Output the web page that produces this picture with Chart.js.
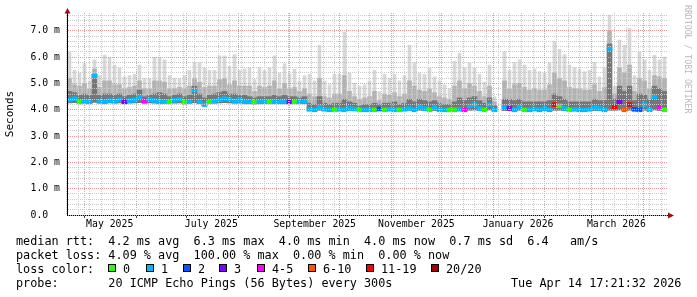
<!DOCTYPE html>
<html>
<head>
<meta charset="utf-8">
<script src="https://cdn.jsdelivr.net/npm/chart.js@4.4.1/dist/chart.umd.min.js"></script>
<style>
  html, body { margin: 0; padding: 0; background: #fff; }
  #wrap { position: relative; width: 697px; height: 297px; overflow: hidden;
          font-family: 'DejaVu Sans Mono', monospace; color: #000; }
  #chart { position: absolute; left: 0; top: 0; }
  .t { position: absolute; white-space: pre; font-size: 11.8px; line-height: 14px; }
  .box { position: absolute; width: 8px; height: 8px; box-sizing: border-box; border: 1px solid #000; }
  #wm { position: absolute; left: 683px; top: 5px; font-size: 8.2px; line-height: 9px;
        color: #b8b8b8; writing-mode: vertical-rl; white-space: pre; }
</style>
</head>
<body>
<div id="wrap">
  <canvas id="chart" width="697" height="297"></canvas>
  <div id="wm">RRDTOOL / TOBI OETIKER</div>
  <div class="t" style="left:16px;top:234px">median rtt:  4.2 ms avg  6.3 ms max  4.0 ms min  4.0 ms now  0.7 ms sd  6.4   am/s</div>
  <div class="t" style="left:16px;top:248px">packet loss: 4.09 % avg  100.00 % max  0.00 % min  0.00 % now</div>
  <div class="t" style="left:16px;top:262px">loss color:</div>
  <div class="t" style="left:16px;top:276px">probe:       20 ICMP Echo Pings (56 Bytes) every 300s</div>
  <div class="t" style="left:511px;top:276px">Tue Apr 14 17:21:32 2026</div>
</div>
<script>
// 360 day graph, one value per 3 days
var DAY = 86400000;
var graphStart = Date.UTC(2025, 3, 20, 9, 0, 0);
var graphDays = 360;
var bucketDays = 3;

// median rtt (ms)
var median = [
  4.38, 4.42, 4.30, 4.33, 4.30, 5.28, 4.33, 4.30, 4.35, 4.33,
  4.38, 4.30, 4.35, 4.37, 4.50, 4.33, 4.38, 4.35, 4.30, 4.32,
  4.30, 4.36, 4.40, 4.28, 4.32, 4.75, 4.30, 4.20, 4.30, 4.33,
  4.38, 4.42, 4.40, 4.33, 4.36, 4.30, 4.30, 4.28, 4.30, 4.31,
  4.30, 4.30, 4.30, 4.30, 4.30, 4.30, 4.30, 4.30, 4.02, 4.00,
  4.10, 4.02, 4.00, 4.00, 4.02, 4.00, 4.05, 4.03, 4.00, 4.00,
  4.00, 4.00, 4.03, 4.00, 4.02, 4.00, 4.00, 4.02, 4.05, 4.00,
  4.10, 4.05, 4.00, 4.08, 4.00, 4.00, 4.00, 4.00, 4.02, 4.00,
  4.15, 4.20, 4.05, 4.00, 4.20, 4.00, null, 4.10, 4.05, 4.00,
  4.10, 4.00, 4.00, 4.03, 4.00, 4.05, 4.00, 4.20, 4.15, 4.05,
  4.00, 4.02, 4.00, 4.00, 4.02, 4.08, 4.05, 4.00, 6.33, 4.11,
  4.30, 4.00, 4.20, 4.02, 4.00, 4.20, 4.00, 4.50, 4.10, 4.00
];
// lost pings out of 20
var loss = [
  1, 1, 0, 1, 1, 1, 1, 1, 1, 1,
  1, 3, 1, 1, 1, 5, 1, 1, 1, 1,
  0, 1, 1, 0, 1, 1, 1, 1, 0, 1,
  1, 1, 1, 1, 1, 1, 1, 0, 1, 1,
  0, 1, 1, 1, 3, 0, 1, 1, 1, 1,
  1, 1, 1, 0, 1, 1, 1, 1, 0, 1,
  1, 0, 2, 0, 1, 1, 0, 1, 1, 1,
  1, 1, 0, 1, 1, 1, 0, 0, 1, 5,
  1, 1, 1, 0, 1, 1, 20, 1, 3, 1,
  1, 0, 1, 1, 1, 1, 1, 15, 0, 1,
  0, 1, 1, 1, 1, 1, 1, 1, 1, 15,
  3, 8, 15, 2, 2, 1, 1, 1, 5, 0
];
// smoke: lowest ping, top of dark part, top of middle part, highest ping
var smokeLow = [
  4.26, 4.27, 4.24, 4.25, 4.25, 4.28, 4.25, 4.24, 4.26, 4.25,
  4.26, 4.24, 4.25, 4.26, 4.27, 4.25, 4.26, 4.25, 4.24, 4.25,
  4.24, 4.25, 4.26, 4.23, 4.25, 4.27, 4.24, 4.15, 4.24, 4.25,
  4.26, 4.27, 4.26, 4.25, 4.25, 4.24, 4.24, 4.23, 4.24, 4.24,
  4.24, 4.24, 4.24, 4.24, 4.24, 4.24, 4.24, 4.24, 3.97, 3.96,
  3.98, 3.97, 3.96, 3.96, 3.97, 3.96, 3.97, 3.97, 3.96, 3.96,
  3.96, 3.96, 3.97, 3.96, 3.97, 3.96, 3.96, 3.97, 3.97, 3.96,
  3.98, 3.97, 3.96, 3.97, 3.96, 3.96, 3.96, 3.96, 3.97, 3.96,
  3.98, 3.99, 3.97, 3.96, 3.99, 3.96, null, 3.97, 3.97, 3.96,
  3.98, 3.96, 3.96, 3.97, 3.96, 3.97, 3.96, 3.98, 3.98, 3.97,
  3.96, 3.97, 3.96, 3.96, 3.97, 3.97, 3.97, 3.96, 3.98, 3.98,
  3.99, 3.96, 3.98, 3.96, 3.96, 3.98, 3.96, 3.99, 3.97, 3.96
];
var smokeDark = [
  4.70, 4.65, 4.55, 4.60, 4.55, 5.35, 4.55, 4.60, 4.60, 4.55,
  4.60, 4.50, 4.55, 4.60, 4.75, 4.50, 4.55, 4.60, 4.65, 4.60,
  4.50, 4.55, 4.60, 4.50, 4.55, 4.90, 4.60, 4.45, 4.55, 4.60,
  4.65, 4.70, 4.60, 4.60, 4.55, 4.55, 4.50, 4.45, 4.50, 4.50,
  4.50, 4.55, 4.50, 4.55, 4.50, 4.50, 4.45, 4.50, 4.25, 4.20,
  4.50, 4.25, 4.20, 4.25, 4.25, 4.40, 4.30, 4.25, 4.15, 4.20,
  4.20, 4.25, 4.20, 4.25, 4.25, 4.30, 4.20, 4.25, 4.40, 4.30,
  4.40, 4.35, 4.30, 4.35, 4.25, 4.20, 4.20, 4.30, 4.45, 4.35,
  4.45, 4.50, 4.35, 4.25, 4.45, 4.15, null, 4.40, 4.40, 4.35,
  4.40, 4.30, 4.30, 4.30, 4.30, 4.30, 4.35, 4.60, 4.50, 4.40,
  4.30, 4.30, 4.30, 4.30, 4.30, 4.40, 4.35, 4.35, 6.50, 4.40,
  4.90, 4.70, 4.90, 4.35, 4.60, 4.55, 4.40, 4.90, 4.80, 4.70
];
var smokeMid = [
  5.20, 4.95, 4.90, 5.00, 4.80, 5.55, 4.85, 5.10, 5.10, 4.95,
  4.95, 4.80, 4.85, 4.90, 5.10, 4.80, 4.80, 5.10, 5.10, 5.05,
  4.80, 4.80, 4.85, 4.80, 4.90, 5.20, 5.05, 4.85, 4.90, 4.90,
  5.15, 5.20, 4.95, 5.10, 4.90, 4.90, 4.90, 4.70, 4.90, 4.85,
  4.90, 5.10, 4.80, 5.00, 4.80, 4.85, 4.70, 4.80, 4.60, 4.50,
  5.20, 4.50, 4.45, 4.60, 4.60, 5.30, 4.70, 4.50, 4.40, 4.45,
  4.50, 4.70, 4.35, 4.60, 4.55, 4.65, 4.50, 4.60, 5.10, 4.90,
  4.75, 4.70, 4.80, 4.65, 4.50, 4.45, 4.40, 4.90, 5.10, 4.80,
  5.00, 4.90, 4.70, 4.50, 4.90, 4.30, null, 5.10, 4.80, 4.95,
  5.00, 4.85, 4.75, 4.80, 4.75, 4.75, 4.95, 5.40, 5.20, 5.10,
  4.85, 4.80, 4.80, 4.75, 4.75, 4.95, 4.70, 4.85, 7.00, 4.60,
  5.60, 5.40, 5.70, 4.70, 5.20, 5.10, 4.80, 5.30, 5.25, 5.20
];
var smokeMax = [
  6.20, 5.50, 5.40, 5.76, 5.10, 5.90, 5.30, 6.08, 6.00, 5.70,
  5.60, 5.25, 5.30, 5.35, 5.70, 5.20, 5.20, 6.00, 6.00, 5.90,
  5.30, 5.20, 5.20, 5.30, 5.50, 5.80, 5.80, 5.60, 5.50, 5.50,
  6.05, 6.05, 5.65, 6.10, 5.50, 5.55, 5.60, 5.15, 5.60, 5.50,
  5.60, 6.05, 5.40, 5.75, 5.35, 5.55, 5.10, 5.30, 5.35, 5.10,
  6.45, 5.10, 4.95, 5.35, 5.35, 6.95, 5.40, 5.00, 4.90, 4.95,
  5.10, 5.50, 4.70, 5.35, 5.20, 5.35, 5.10, 5.30, 6.45, 5.80,
  5.40, 5.35, 5.60, 5.25, 5.10, 4.95, 4.80, 5.85, 6.15, 5.60,
  5.80, 5.60, 5.35, 5.05, 5.70, 4.50, null, 6.20, 5.50, 5.80,
  5.90, 5.70, 5.50, 5.55, 5.45, 5.40, 5.80, 6.60, 6.30, 6.10,
  5.70, 5.60, 5.55, 5.45, 5.50, 5.80, 5.25, 5.60, 7.60, 4.90,
  6.65, 6.46, 7.10, 5.30, 6.20, 5.90, 5.50, 6.07, 5.90, 6.00
];

var lossSteps = [0, 1, 2, 3, 5, 10, 19, 20];
var lossLabels = ['0', '1', '2', '3', '4-5', '6-10', '11-19', '20/20'];
var lossColors = ['#26ff00', '#00b8ff', '#0059ff', '#7e00ff', '#ff00ff', '#ff5500', '#ff0000', '#a10000'];
var monthNames = ['January', 'February', 'March', 'April', 'May', 'June', 'July',
                  'August', 'September', 'October', 'November', 'December'];

var yMax = 7.68;
var majorGrid = '#e79a9a';
var minorGrid = '#c8c8c8';
var fontFamily = "'DejaVu Sans Mono', monospace";

function lossColor(n) {
  for (var k = 0; k < lossSteps.length; k++) {
    if (n <= lossSteps[k]) return lossColors[k];
  }
  return lossColors[lossColors.length - 1];
}

// legend boxes
var legendBoxX = [108, 146, 183, 219, 257, 308, 366, 431];
var wrap = document.getElementById('wrap');
lossLabels.forEach(function(lab, k) {
  var b = document.createElement('div');
  b.className = 'box';
  b.style.left = legendBoxX[k] + 'px';
  b.style.top = '264px';
  b.style.background = lossColors[k];
  wrap.appendChild(b);
  var t = document.createElement('div');
  t.className = 't';
  t.style.left = (legendBoxX[k] + 15) + 'px';
  t.style.top = '262px';
  t.textContent = lab;
  wrap.appendChild(t);
});

// x ticks: month starts (red), sundays (grey), labels every 2nd month at +15 days
var graphEnd = graphStart + graphDays * DAY;
var tickKind = {};
var tickLabel = {};
var xTicks = [];
var d = new Date(graphStart);
var sunday = Date.UTC(d.getUTCFullYear(), d.getUTCMonth(), d.getUTCDate());
while (new Date(sunday).getUTCDay() !== 0) sunday += DAY;
for (var s = sunday; s < graphEnd; s += 7 * DAY) { tickKind[s] = 'week'; }
for (var k = 0; k < 13; k++) {
  var ms = Date.UTC(2025, 4 + k, 1);
  if (ms > graphEnd) break;
  tickKind[ms] = 'month';
  if (k % 2 === 0) {
    var lt = ms + 15 * DAY;
    if (lt < graphEnd) {
      tickKind[lt] = tickKind[lt] || 'label';
      var md = new Date(ms);
      tickLabel[lt] = monthNames[md.getUTCMonth()] + ' ' + md.getUTCFullYear();
    }
  }
}
Object.keys(tickKind).forEach(function(v) { xTicks.push(Number(v)); });
xTicks.sort(function(a, b) { return a - b; });

var bucketTimes = median.map(function(_, i) { return graphStart + (i + 0.5) * bucketDays * DAY; });

function band(lo, hi) {
  return hi.map(function(h, i) {
    return { x: bucketTimes[i], y: (h == null || lo[i] == null) ? null : [lo[i], h] };
  });
}
var medianHalf = 0.075;
var medianBlocks = median.map(function(m, i) {
  return { x: bucketTimes[i], y: m == null ? null : [m - medianHalf, m + medianHalf] };
});

function isMajor(v) { return Math.abs(v - Math.round(v)) < 1e-6; }

var arrows = {
  id: 'arrows',
  afterDraw: function(chart) {
    var a = chart.chartArea, ctx = chart.ctx;
    ctx.save();
    ctx.strokeStyle = '#000';
    ctx.lineWidth = 1;
    ctx.beginPath();
    ctx.moveTo(a.left + 0.5, a.top); ctx.lineTo(a.left + 0.5, a.top - 2);
    ctx.moveTo(a.right, a.bottom + 0.5); ctx.lineTo(a.right + 2, a.bottom + 0.5);
    ctx.stroke();
    ctx.fillStyle = '#a01010';
    ctx.beginPath();
    ctx.moveTo(a.left + 0.5, a.top - 5);
    ctx.lineTo(a.left - 2.5, a.top + 0.5);
    ctx.lineTo(a.left + 3.5, a.top + 0.5);
    ctx.closePath(); ctx.fill();
    ctx.beginPath();
    ctx.moveTo(a.right + 7, a.bottom + 0.5);
    ctx.lineTo(a.right + 1, a.bottom - 2.5);
    ctx.lineTo(a.right + 1, a.bottom + 3.5);
    ctx.closePath(); ctx.fill();
    ctx.restore();
  }
};

Chart.defaults.font.family = fontFamily;

function ds(label, data, color, order, thickness) {
  return { label: label, data: data, backgroundColor: color, order: order,
           stack: 'smoke', barThickness: thickness, borderWidth: 0 };
}

new Chart(document.getElementById('chart').getContext('2d'), {
  type: 'bar',
  data: {
    datasets: [
      ds('median rtt', medianBlocks, loss.map(lossColor), 0, 5),
      ds('smoke dark', band(smokeLow, smokeDark), '#767676', 1, 5),
      ds('smoke mid', band(smokeDark, smokeMid), '#b2b2b2', 2, 4),
      ds('smoke light', band(smokeMid, smokeMax), '#d8d8d8', 3, 3)
    ]
  },
  options: {
    responsive: false,
    animation: false,
    devicePixelRatio: 1,
    layout: { padding: { left: 0, top: 13, right: 30, bottom: 0 } },
    plugins: { legend: { display: false }, tooltip: { enabled: false } },
    events: [],
    scales: {
      x: {
        type: 'linear',
        min: graphStart,
        max: graphEnd,
        offset: false,
        afterFit: function(s) { s.height = 82; },
        afterBuildTicks: function(s) { s.ticks = xTicks.map(function(v) { return { value: v }; }); },
        grid: {
          offset: false, z: 1, lineWidth: 1, drawTicks: true, tickLength: 3,
          color: function(c) {
            var k = c.tick && tickKind[c.tick.value];
            return k === 'month' ? majorGrid : (k === 'week' ? minorGrid : 'rgba(0,0,0,0)');
          },
          tickColor: function(c) {
            return c.tick && tickKind[c.tick.value] === 'month' ? '#444' : 'rgba(0,0,0,0)';
          }
        },
        border: { display: true, color: '#000', width: 1, dash: [1, 1], z: 1 },
        ticks: {
          autoSkip: false, maxRotation: 0, minRotation: 0, padding: 1,
          color: '#000', font: { family: fontFamily, size: 9.8 },
          callback: function(v) { return tickLabel[v] || ''; }
        }
      },
      y: {
        min: 0,
        max: yMax,
        stacked: false,
        afterFit: function(s) { s.width = 67; },
        grid: {
          z: 1, lineWidth: 1, drawTicks: false,
          color: function(c) { return c.tick && isMajor(c.tick.value) ? majorGrid : minorGrid; }
        },
        border: { display: true, color: '#000', width: 1, dash: [1, 1], z: 1 },
        ticks: {
          stepSize: 0.2, includeBounds: false, autoSkip: false, padding: 7,
          color: '#000', font: { family: fontFamily, size: 9.8 },
          callback: function(v) {
            if (!isMajor(v)) return '';
            var r = Math.round(v);
            return r === 0 ? '0.0  ' : r.toFixed(1) + ' m';
          }
        },
        title: {
          display: true, text: 'Seconds', color: '#000',
          font: { family: fontFamily, size: 11 },
          padding: { top: 4, bottom: 0 }
        }
      }
    }
  },
  plugins: [arrows]
});
</script>
</body>
</html>
